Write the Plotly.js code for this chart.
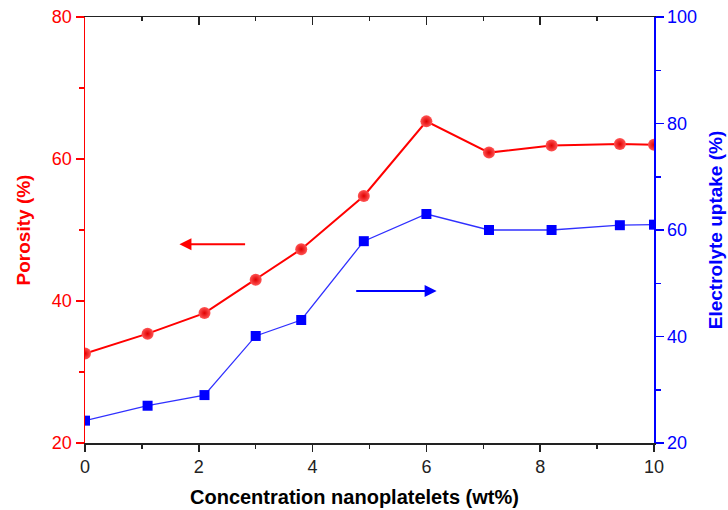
<!DOCTYPE html>
<html>
<head>
<meta charset="utf-8">
<script src="https://cdn.plot.ly/plotly-3.0.1.min.js"></script>
<style>html,body{margin:0;padding:0;background:#fff;}#chart{width:728px;height:510px;}</style>
</head>
<body>
<div id="chart"></div>
<script>
// Data
const concentration = [0, 1.1, 2.1, 3.0, 3.8, 4.9, 6.0, 7.1, 8.2, 9.4, 10];
const porosity      = [32.6, 35.4, 38.3, 43.0, 47.3, 54.8, 65.3, 60.9, 61.9, 62.1, 62.0];
const uptake        = [24.2, 27.0, 29.0, 40.1, 43.1, 57.9, 63.0, 60.0, 60.0, 60.9, 61.0];
const xTitle = 'Concentration nanoplatelets (wt%)';
const leftTitle = 'Porosity (%)';
const rightTitle = 'Electrolyte uptake (%)';

const FONT = 'Liberation Sans, Arial, Helvetica, sans-serif';
const RED = '#ff0000';
const BLUE = '#0000ff';
const AXC = '#222222';

const traces = [
  {
    x: concentration, y: porosity, type: 'scatter', mode: 'lines+markers',
    xaxis: 'x', yaxis: 'y',
    line: {color: RED, width: 2},
    marker: {symbol: 'circle', size: 12, color: '#ff5555',
             gradient: {type: 'radial', color: '#e00000'},
             line: {width: 0}},
    hoverinfo: 'skip', showlegend: false
  },
  {
    x: concentration, y: uptake, type: 'scatter', mode: 'lines+markers',
    xaxis: 'x', yaxis: 'y2',
    line: {color: '#3030ff', width: 1.3},
    marker: {symbol: 'square', size: 10, color: BLUE, line: {width: 0}},
    hoverinfo: 'skip', showlegend: false
  },
  {
    // invisible helper so the mirrored top axis is drawn
    x: concentration, y: porosity, type: 'scatter', mode: 'markers',
    xaxis: 'x2', yaxis: 'y',
    marker: {opacity: 0}, hoverinfo: 'skip', showlegend: false
  }
];

const layout = {
  width: 728, height: 510,
  margin: {l: 85, r: 74, t: 17, b: 67},
  paper_bgcolor: '#ffffff', plot_bgcolor: '#ffffff',
  font: {family: FONT, size: 18, color: AXC},
  showlegend: false,
  xaxis: {
    range: [0, 10], dtick: 2, tick0: 0,
    showgrid: false, zeroline: false,
    showline: true, linecolor: AXC, linewidth: 1.5,
    ticks: 'outside', ticklen: 7, tickwidth: 1.5, tickcolor: AXC,
    minor: {ticks: 'outside', dtick: 1, ticklen: 4, tickwidth: 1.5, tickcolor: AXC},
    tickfont: {family: FONT, size: 18, color: AXC}
  },
  xaxis2: {
    overlaying: 'x', side: 'top', anchor: 'y',
    range: [0, 10], dtick: 2, tick0: 0,
    showgrid: false, zeroline: false, showticklabels: false,
    showline: true, linecolor: AXC, linewidth: 1.5,
    ticks: 'inside', ticklen: 8, tickwidth: 1.5, tickcolor: AXC,
    minor: {ticks: 'inside', dtick: 1, ticklen: 4, tickwidth: 1.5, tickcolor: AXC}
  },
  yaxis: {
    range: [20, 80], dtick: 20, tick0: 20,
    showgrid: false, zeroline: false,
    showline: true, linecolor: RED, linewidth: 1.5,
    ticks: 'outside', ticklen: 8, tickwidth: 1.5, tickcolor: RED,
    minor: {ticks: 'outside', dtick: 10, ticklen: 5, tickwidth: 1.5, tickcolor: RED},
    tickfont: {family: FONT, size: 18, color: RED},
    title: {text: '<b>' + leftTitle + '</b>', font: {family: FONT, size: 19, color: RED}, standoff: 16}
  },
  yaxis2: {
    overlaying: 'y', side: 'right', anchor: 'x',
    range: [20, 100], dtick: 20, tick0: 20,
    showgrid: false, zeroline: false,
    showline: true, linecolor: BLUE, linewidth: 1.5,
    ticks: 'outside', ticklen: 8, tickwidth: 1.5, tickcolor: BLUE,
    minor: {ticks: 'outside', dtick: 10, ticklen: 5, tickwidth: 1.5, tickcolor: BLUE},
    tickfont: {family: FONT, size: 18, color: BLUE},
    title: {text: '<b>' + rightTitle + '</b>', font: {family: FONT, size: 19, color: BLUE}, standoff: 12}
  },
  annotations: [
    {x: 1.66, y: 48.0, xref: 'x', yref: 'y', ax: 2.84, ay: 48.0, axref: 'x', ayref: 'y',
     showarrow: true, arrowhead: 2, arrowsize: 1.2, arrowwidth: 2, arrowcolor: RED, text: ''},
    {x: 6.18, y: 41.4, xref: 'x', yref: 'y', ax: 4.74, ay: 41.4, axref: 'x', ayref: 'y',
     showarrow: true, arrowhead: 2, arrowsize: 1.2, arrowwidth: 2, arrowcolor: BLUE, text: ''},
    {x: 0.474, y: -0.127, xref: 'paper', yref: 'paper', xanchor: 'center', yanchor: 'middle',
     showarrow: false, text: '<b>' + xTitle + '</b>', font: {family: FONT, size: 20, color: '#000'}}
  ]
};

Plotly.newPlot('chart', traces, layout, {displayModeBar: false, staticPlot: true});
</script>
</body>
</html>
